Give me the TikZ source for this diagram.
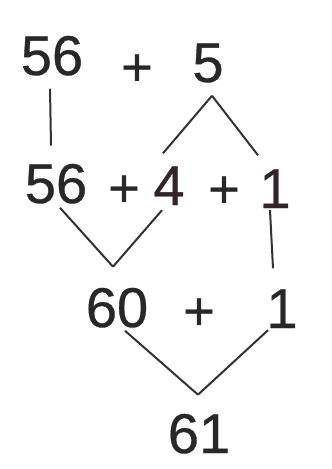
\documentclass[tikz,border=0pt]{standalone}
\usepackage{fontspec}
\setmainfont[FakeBold=0.6]{Liberation Sans}
\usetikzlibrary{positioning}
\definecolor{ink}{RGB}{40,40,40}
\definecolor{redink}{RGB}{52,36,40}
\definecolor{pen}{RGB}{50,50,50}

\begin{document}
\begin{tikzpicture}[
  x=1pt, y=-1pt,
  num/.style={inner sep=0pt, anchor=base, text=ink, font=\fontsize{56}{62}\selectfont},
  rnum/.style={num, text=redink},
  op/.style={inner sep=0pt, text=ink, font=\fontsize{54}{60}\selectfont},
  link/.style={draw=pen, line width=2pt}
]
\fill[white] (0,0) rectangle (332,469);
\useasboundingbox (0,0) rectangle (332,469);

\node[num] (topleft) at (52,75) {56};
\node[op] (plustop) at (137,70) {+};
\node[num] (five) at (208,82) {5};

\node[num] (midleft) at (56,203) {56};
\node[op] (plusmidA) at (124,191) {+};
\node[rnum] (four) at (169,205) {4};
\node[op] (plusmidB) at (224,192) {+};
\node[rnum] (onemid) at (275,208) {1};

\node[num] (sixty) at (117,327) {60};
\node[op] (pluslow) at (199,314) {+};
\node[num] (onelow) at (282,328) {1};

\node[num] (result) at (199,453) {61};

\coordinate (splitfive) at ([xshift=4pt,yshift=-13pt]five.south);
\coordinate (joinsixty) at ([xshift=-4pt,yshift=21pt]sixty.north);
\coordinate (joinresult) at ([xshift=-1pt,yshift=19pt]result.north);

\draw[link] ([xshift=-2pt,yshift=-13pt]topleft.south) -- ([xshift=-5pt,yshift=18pt]midleft.north);
\draw[link] (splitfive) -- ([xshift=-6pt,yshift=13pt]four.north);
\draw[link] (splitfive) -- ([xshift=-17pt,yshift=14pt]onemid.north);
\draw[link] ([xshift=4pt,yshift=-4pt]midleft.south) -- (joinsixty);
\draw[link] ([xshift=-7pt,yshift=-5pt]four.south) -- (joinsixty);
\draw[link] ([xshift=-5pt,yshift=-2pt]onemid.south) -- ([xshift=-9pt,yshift=21pt]onelow.north);
\draw[link] ([xshift=8pt,yshift=-3pt]sixty.south) -- (joinresult);
\draw[link] ([xshift=-14pt,yshift=-2pt]onelow.south) -- (joinresult);
\end{tikzpicture}
\end{document}
